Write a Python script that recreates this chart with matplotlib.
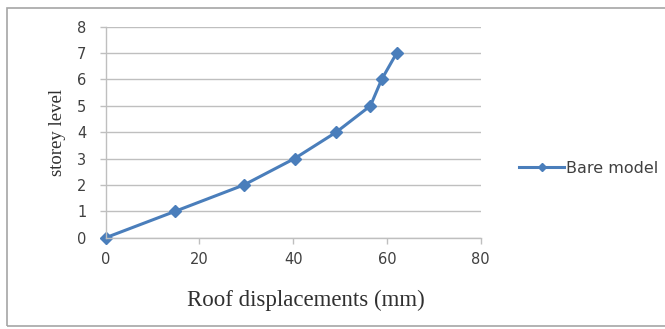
import matplotlib.pyplot as plt
from matplotlib.patches import Rectangle

# Storey drift profile for the bare frame
roof_displacement_mm = [0, 14.8, 29.5, 40.3, 49.2, 56.5, 58.9, 62.1]
storey_level = [0, 1, 2, 3, 4, 5, 6, 7]
series_name = "Bare model"
x_ticks = [0, 20, 40, 60, 80]
y_ticks = [0, 1, 2, 3, 4, 5, 6, 7, 8]

line_color = "#4a7ebb"
grid_color = "#bfbfbf"
text_color = "#404040"

fig = plt.figure(figsize=(6.65, 3.29), dpi=100)
ax = fig.add_axes([0.159, 0.2775, 0.5636, 0.6415])

ax.plot(roof_displacement_mm, storey_level, color=line_color, lw=2.2,
        marker="D", markersize=6.5, markerfacecolor=line_color,
        markeredgecolor=line_color, label=series_name, clip_on=False)

ax.set_xlim(0, 80)
ax.set_ylim(0, 8)
ax.set_xticks(x_ticks)
ax.set_yticks(y_ticks)
ax.grid(axis="y", color=grid_color, lw=1.0)
ax.set_axisbelow(True)
for side in ("top", "right"):
    ax.spines[side].set_visible(False)
for side in ("left", "bottom"):
    ax.spines[side].set_color(grid_color)
    ax.spines[side].set_linewidth(1.0)
ax.tick_params(axis="both", colors=grid_color, length=4, width=1.0,
               labelcolor=text_color, labelsize=10.5)
ax.tick_params(axis="x", pad=6)
ax.tick_params(axis="y", pad=10)

ax.set_xlabel("Roof displacements (mm)", family="Liberation Serif",
              fontsize=16.5, color="#303030")
ax.xaxis.set_label_coords(0.535, -0.245)
ax.set_ylabel("storey level", family="Liberation Serif",
              fontsize=13.5, color="#303030", labelpad=8)

leg = ax.legend(loc="center left", bbox_to_anchor=(1.065, 0.33), frameon=False,
                fontsize=11.5, handlelength=2.8, handletextpad=0.1,
                markerscale=0.6)
for t in leg.get_texts():
    t.set_color(text_color)

# Outer chart frame
fig.patches.append(Rectangle((7 / 665, 3 / 329), 1.0, 318 / 329,
                             transform=fig.transFigure, fill=False,
                             edgecolor="#a6a6a6", lw=1.2))

fig.savefig("out.png", dpi=100)
